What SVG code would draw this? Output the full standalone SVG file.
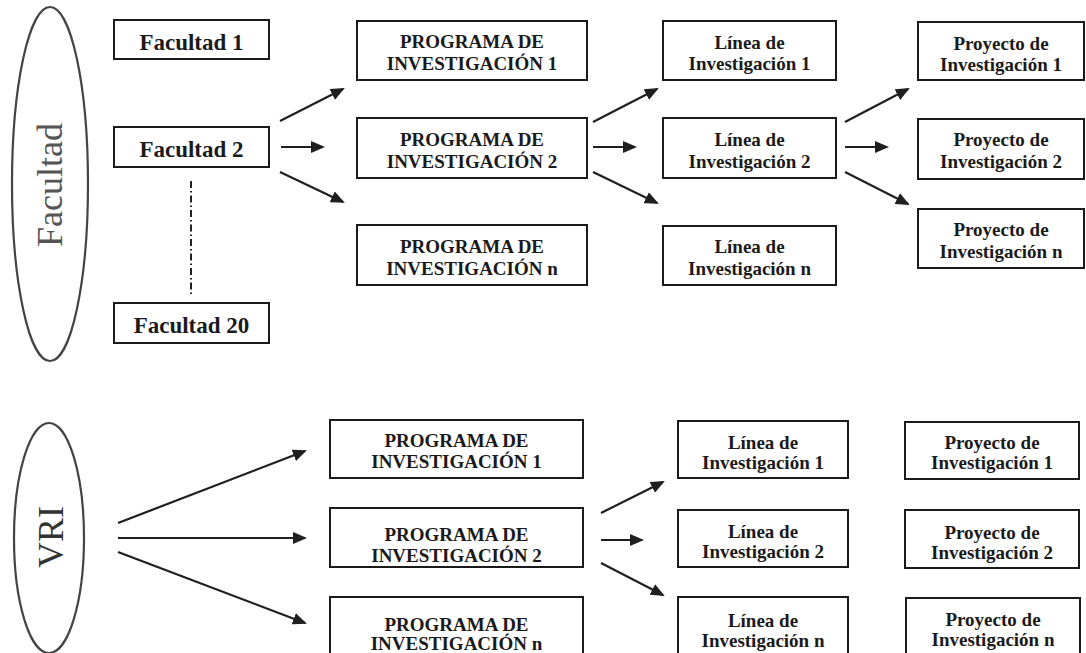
<svg xmlns="http://www.w3.org/2000/svg" width="1086" height="653" viewBox="0 0 1086 653">
<style>
.box{fill:#fff;stroke:#1a1a1a;stroke-width:2}
.t{font-family:"Liberation Serif","Times New Roman",serif;font-weight:bold;fill:#1a1a1a;text-anchor:middle}
.f{font-size:23px}
.p{font-size:19px}
.ell{fill:none;stroke:#444;stroke-width:2.2}
.big{font-family:"Liberation Serif","Times New Roman",serif;text-anchor:middle;font-size:36px}
.c{stroke:#1f1f1f;stroke-width:2.2;fill:none;marker-end:url(#ah)}
</style>
<defs>
<marker id="ah" markerUnits="userSpaceOnUse" markerWidth="14" markerHeight="12" refX="12" refY="6" orient="auto">
<path d="M0,0 L14,6 L0,12 z" fill="#1f1f1f"/>
</marker>
</defs>
<rect width="1086" height="653" fill="#fff"/>

<g id="facultad-ellipse">
<ellipse class="ell" cx="50" cy="184" rx="38" ry="177"/>
<text class="big" x="62" y="185" transform="rotate(-90 62 185)" fill="#555">Facultad</text>
</g>
<g id="fac1"><rect class="box" x="114" y="20" width="155" height="39"/><text class="t f" x="191.5" y="50">Facultad 1</text></g>
<g id="fac2"><rect class="box" x="114" y="127" width="155" height="40"/><text class="t f" x="191.5" y="157">Facultad 2</text></g>
<g id="fac20"><rect class="box" x="114" y="303" width="155" height="40"/><text class="t f" x="191.5" y="333">Facultad 20</text></g>

<g id="prog1"><rect class="box" x="357" y="21" width="230" height="59"/><text class="t p" x="472" y="48">PROGRAMA DE</text><text class="t p" x="472" y="70">INVESTIGACIÓN  1</text></g>
<g id="prog2"><rect class="box" x="357" y="118" width="230" height="60"/><text class="t p" x="472" y="146">PROGRAMA DE</text><text class="t p" x="472" y="168">INVESTIGACIÓN 2</text></g>
<g id="progn"><rect class="box" x="357" y="225" width="230" height="60"/><text class="t p" x="472" y="253">PROGRAMA DE</text><text class="t p" x="472" y="275">INVESTIGACIÓN  n</text></g>

<g id="lin1"><rect class="box" x="663" y="21" width="173" height="59"/><text class="t p" x="749.5" y="49">Línea de</text><text class="t p" x="749.5" y="70">Investigación 1</text></g>
<g id="lin2"><rect class="box" x="663" y="118" width="173" height="60"/><text class="t p" x="749.5" y="146">Línea de</text><text class="t p" x="749.5" y="168">Investigación 2</text></g>
<g id="linn"><rect class="box" x="663" y="226" width="173" height="59"/><text class="t p" x="749.5" y="253">Línea de</text><text class="t p" x="749.5" y="275">Investigación n</text></g>

<g id="proy1"><rect class="box" x="918" y="22" width="166" height="58"/><text class="t p" x="1001" y="50">Proyecto de</text><text class="t p" x="1001" y="71">Investigación 1</text></g>
<g id="proy2"><rect class="box" x="918" y="119" width="166" height="60"/><text class="t p" x="1001" y="146">Proyecto de</text><text class="t p" x="1001" y="168">Investigación 2</text></g>
<g id="proyn"><rect class="box" x="918" y="209" width="166" height="59"/><text class="t p" x="1001" y="236">Proyecto de</text><text class="t p" x="1001" y="258">Investigación n</text></g>

<g id="vri-ellipse">
<ellipse class="ell" cx="49" cy="538" rx="35" ry="115"/>
<text class="big" x="63" y="537" transform="rotate(-90 63 537)" fill="#333">VRI</text>
</g>

<g id="vprog1"><rect class="box" x="330" y="420" width="253" height="58"/><text class="t p" x="456.5" y="447">PROGRAMA DE</text><text class="t p" x="456.5" y="468">INVESTIGACIÓN  1</text></g>
<g id="vprog2"><rect class="box" x="330" y="508" width="253" height="59"/><text class="t p" x="456.5" y="541">PROGRAMA DE</text><text class="t p" x="456.5" y="562">INVESTIGACIÓN 2</text></g>
<g id="vprogn"><rect class="box" x="330" y="597" width="253" height="65"/><text class="t p" x="456.5" y="631">PROGRAMA DE</text><text class="t p" x="456.5" y="650">INVESTIGACIÓN  n</text></g>

<g id="vlin1"><rect class="box" x="678" y="421" width="170" height="57"/><text class="t p" x="763" y="449">Línea de</text><text class="t p" x="763" y="469">Investigación 1</text></g>
<g id="vlin2"><rect class="box" x="678" y="510" width="170" height="57"/><text class="t p" x="763" y="538">Línea de</text><text class="t p" x="763" y="558">Investigación 2</text></g>
<g id="vlinn"><rect class="box" x="678" y="597" width="170" height="65"/><text class="t p" x="763" y="627">Línea de</text><text class="t p" x="763" y="647">Investigación n</text></g>

<g id="vproy1"><rect class="box" x="905" y="422" width="174" height="57"/><text class="t p" x="992" y="449">Proyecto de</text><text class="t p" x="992" y="469">Investigación 1</text></g>
<g id="vproy2"><rect class="box" x="905" y="510" width="174" height="58"/><text class="t p" x="992" y="539">Proyecto de</text><text class="t p" x="992" y="559">Investigación 2</text></g>
<g id="vproyn"><rect class="box" x="906" y="598" width="174" height="64"/><text class="t p" x="993" y="626">Proyecto de</text><text class="t p" x="993" y="646">Investigación n</text></g>

<g id="connectors">
<line x1="191" y1="181" x2="191" y2="297" stroke="#222" stroke-width="2" stroke-dasharray="7,3,1.5,3"/>
<line class="c" x1="280" y1="121" x2="343" y2="89"/>
<line class="c" x1="281" y1="147" x2="323" y2="147"/>
<line class="c" x1="280" y1="172" x2="343" y2="202"/>
<line class="c" x1="593" y1="122" x2="657" y2="89"/>
<line class="c" x1="593" y1="147" x2="635" y2="147"/>
<line class="c" x1="593" y1="172" x2="657" y2="203"/>
<line class="c" x1="845" y1="122" x2="908" y2="89"/>
<line class="c" x1="845" y1="147" x2="887" y2="147"/>
<line class="c" x1="845" y1="172" x2="908" y2="204"/>
<line class="c" x1="118" y1="523" x2="305" y2="451"/>
<line class="c" x1="118" y1="538" x2="305" y2="538"/>
<line class="c" x1="118" y1="552" x2="305" y2="623"/>
<line class="c" x1="601" y1="513" x2="663" y2="482"/>
<line class="c" x1="601" y1="540" x2="642" y2="540"/>
<line class="c" x1="601" y1="563" x2="663" y2="595"/>
</g>
</svg>
